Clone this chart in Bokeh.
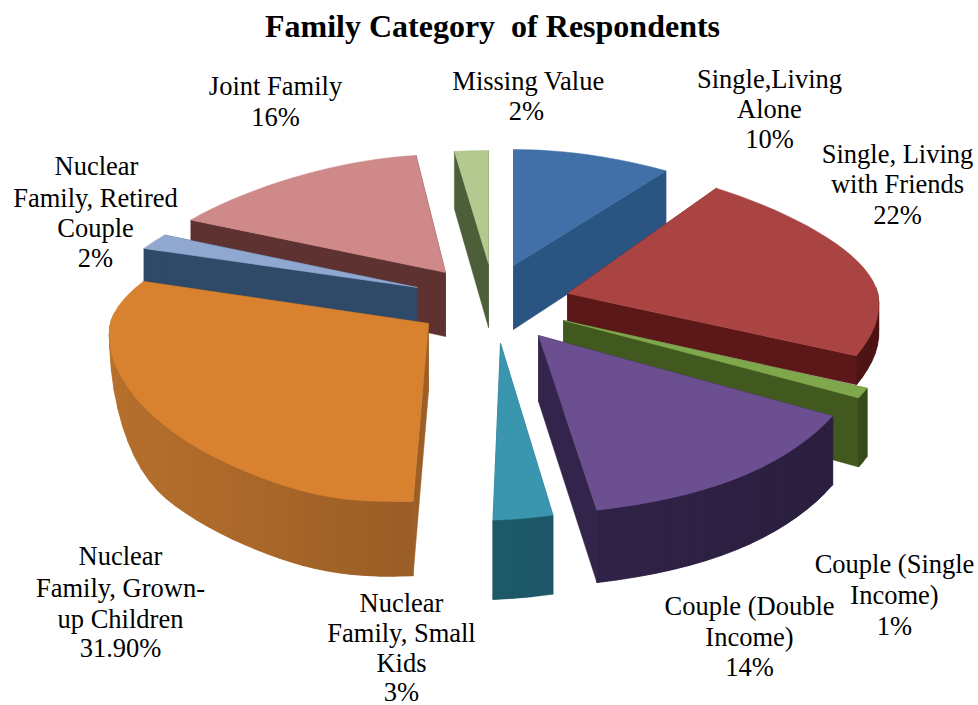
import math
from bokeh.core.properties import value
from bokeh.embed import file_html
from bokeh.models import ColumnDataSource
from bokeh.plotting import figure
from bokeh.resources import INLINE

# Share of respondents per family category, clockwise from twelve o'clock
categories = ["Single,Living Alone", "Single, Living with Friends", "Couple (Single Income)",
              "Couple (Double Income)", "Nuclear Family, Small Kids", "Nuclear Family, Grown-up Children",
              "Nuclear Family, Retired Couple", "Joint Family", "Missing Value"]
values = [10, 22, 1, 14, 3, 31.9, 2, 16, 2]

# Label text, one list of lines per category
label_lines = [
    ["Single,Living", "Alone", "10%"],
    ["Single, Living", "with Friends", "22%"],
    ["Couple (Single", "Income)", "1%"],
    ["Couple (Double", "Income)", "14%"],
    ["Nuclear", "Family, Small", "Kids", "3%"],
    ["Nuclear", "Family, Grown-", "up Children", "31.90%"],
    ["Nuclear", "Family, Retired", "Couple", "2%"],
    ["Joint Family", "16%"],
    ["Missing Value", "2%"],
]
title = "Family Category \u00a0of Respondents"

# Per-slice styling: top colour, wall colour
top_colors = ["#4170A8", "#AA4442", "#7FA84C", "#6B4F90", "#3A96AF", "#D8822F", "#90A8D0", "#CE8988", "#B3C98F"]
wall_colors = ["#2A5482", "#5C1818", "#41591F", "#32244A", "#1E5A6B", "#9C5F26", "#2F4A68", "#5E3230", "#4C5F38"]

# Exploded slice layout: tip of the top face in page pixels, wall height, radii
tips = [(513, 265), (567, 293), (563, 320), (538, 335), (500, 343), (428, 323), (417, 287), (445, 272), (488, 263)]
wall_heights = [64, 28, 66, 66, 72, 68, 66, 64, 64]
radius_x = [322, 314, 330, 329, 290, 322, 309, 311, 360]
front_depth = [178, 159, 173, 180, 177, 178, 178, 178, 178]
back_depth = [116, 129, 118, 118, 118, 127, 118, 118, 113]
nib = [30, 30, 30, 30, 25, 35, 30, 30, 30]
# Fraction of the front where the rim wall of a slice fades in from the side
wall_fade = [0, 0, 0, 0, 0, 0.5, 0, 0, 0]
draw_order = [8, 0, 7, 1, 2, 6, 5, 4, 3]


def project(i, t):
    """Page position of the rim at angle t (radians clockwise from north) for slice i."""
    u, v = math.sin(t), math.cos(t)
    x = radius_x[i] * u / (1 + 0.194 * max(v + 0.25, 0) ** 2)
    if v < 0:
        x -= nib[i] * abs(v) ** 12
    y = v * (back_depth[i] if v > 0 else front_depth[i])
    return tips[i][0] + x, tips[i][1] - y


def drop(i, t):
    return wall_heights[i] * (1 - 0.1 * math.cos(t))


def rim_drop(i, t):
    h = drop(i, t)
    if wall_fade[i]:
        f = min(1, max(0, (-math.cos(t) - 0.1) / wall_fade[i]))
        h *= f * (2 - f)
    return h


def shade(color, factor):
    rgb = [int(color[k:k + 2], 16) for k in (1, 3, 5)]
    return "#%02x%02x%02x" % tuple(min(255, max(0, round(c * factor))) for c in rgb)


p = figure(width=978, height=705, x_range=(0, 978), y_range=(705, 0),
           output_backend="svg", toolbar_location=None, min_border=0)
p.axis.visible = False
p.grid.visible = False
p.outline_line_color = None
p.background_fill_color = "white"

total = sum(values)
edges = [0.0]
for val in values:
    edges.append(edges[-1] + val / total * 2 * math.pi)


def add_polys(xs, ys, colors):
    src = ColumnDataSource(dict(xs=xs, ys=ys, c=colors))
    p.patches("xs", "ys", source=src, fill_color="c", line_color="c", line_width=0.5)


for i in draw_order:
    a0, a1 = edges[i], edges[i + 1]
    tx, ty = tips[i]
    steps = max(2, int((a1 - a0) / 0.05))
    angles = [a0 + (a1 - a0) * k / steps for k in range(steps + 1)]
    rim = [project(i, a) for a in angles]
    xs, ys, cs = [], [], []

    # radial walls under both straight edges
    for a, (rx, ry) in ((a0, rim[0]), (a1, rim[-1])):
        xs.append([tx, rx, rx, tx])
        ys.append([ty, ry, ry + drop(i, a), ty + wall_heights[i]])
        cs.append(wall_colors[i])

    # front rim wall, each strip overlapping the next so no seams show
    for k in range(steps):
        mid = (angles[k] + angles[k + 1]) / 2
        if math.cos(mid) > 0.05:
            continue
        end = min(k + 2, steps)
        strip = range(k, end + 1)
        top = [rim[m] for m in strip]
        bottom = [(rim[m][0], rim[m][1] + rim_drop(i, angles[m])) for m in strip]
        outline = top + bottom[::-1]
        xs.append([pt[0] for pt in outline])
        ys.append([pt[1] for pt in outline])
        cs.append(shade(wall_colors[i], 1 - 0.17 * math.sin(mid)))
    add_polys(xs, ys, cs)

    # top face
    add_polys([[tx] + [r[0] for r in rim]], [[ty] + [r[1] for r in rim]], [top_colors[i]])

# Label anchors as line centres in page pixels
label_pos = [
    [(769, 78), (769, 108), (769, 138)],
    [(897, 153), (897, 183), (897, 214)],
    [(894, 563), (894, 594), (894, 625)],
    [(749, 605), (749, 636), (749, 666)],
    [(401, 602), (401, 632), (401, 662), (401, 691)],
    [(120, 555), (120, 587), (120, 618), (120, 647)],
    [(96, 165), (95, 197), (95, 227), (95, 257)],
    [(275, 85), (275, 116)],
    [(528, 80), (526, 110)],
]
lx, ly, lt = [], [], []
for lines, pos in zip(label_lines, label_pos):
    for line, (x, y) in zip(lines, pos):
        lx.append(x)
        ly.append(y)
        lt.append(line)
p.text(lx, ly, text=lt, text_font=value("Liberation Serif"), text_font_size="26.5px",
       text_color="black", text_align="center", text_baseline="middle")
p.text([492], [25], text=[title], text_font=value("Liberation Serif"), text_font_size="32px",
       text_font_style="bold", text_color="black", text_align="center", text_baseline="middle")

open("out.html", "w").write(file_html(p, INLINE))
